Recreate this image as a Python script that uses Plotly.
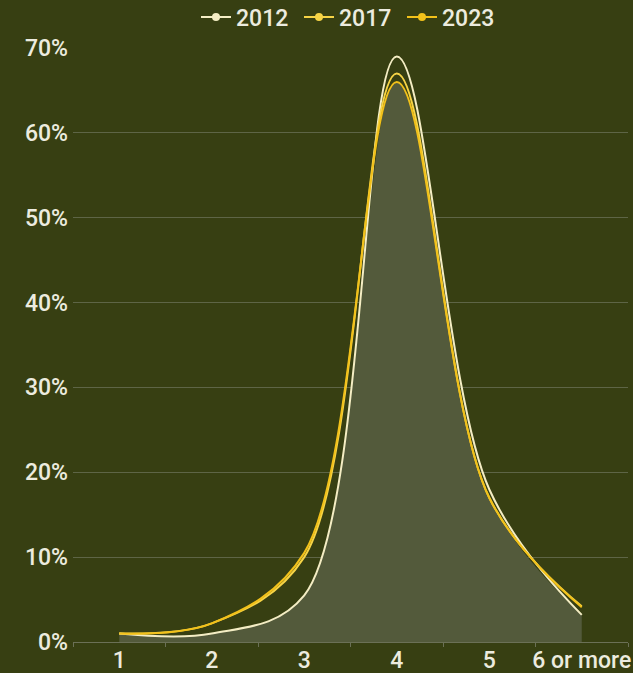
import plotly.graph_objects as go

categories = ["1", "2", "3", "4", "5", "6 or more"]
years = ["2012", "2017", "2023"]
values_2012 = [1, 1, 5.5, 69, 18, 3.2]
values_2017 = [1, 2.2, 10, 67, 17, 4.2]
values_2023 = [1, 2.2, 10.5, 66, 17, 4.1]
colors = ["#f4edc4", "#f6d446", "#f2c11a"]

series = [values_2012, values_2017, values_2023]
fill_values = [min(v) for v in zip(*series)]

FONT = "Roboto, Liberation Sans, sans-serif"
BG = "#373f12"
TXT = "#ecebdf"

fig = go.Figure()
fig.add_trace(go.Scatter(
    x=categories, y=fill_values, mode="lines", fill="tozeroy",
    fillcolor="#535a3b", line=dict(width=0, shape="spline", smoothing=1),
    showlegend=False, hoverinfo="skip"))

for name, vals, col in zip(years, series, colors):
    fig.add_trace(go.Scatter(
        x=categories, y=vals, mode="lines", name=name,
        line=dict(color=col, width=2, shape="spline", smoothing=1),
        showlegend=False))
    fig.add_trace(go.Scatter(
        x=[None], y=[None], mode="lines+markers", name=name,
        line=dict(color=col, width=2), marker=dict(color=col, size=8),
        showlegend=True))

fig.update_layout(
    width=633, height=673,
    margin=dict(l=73, r=5, t=48, b=31, autoexpand=False),
    paper_bgcolor=BG, plot_bgcolor=BG,
    font=dict(family=FONT, size=23, color=TXT, weight=500),
    showlegend=True,
    legend=dict(orientation="h", x=0.5, xanchor="center", y=1.052, yanchor="middle",
                itemwidth=30, entrywidth=58, font=dict(size=23, weight=500), tracegroupgap=0,
                bgcolor="rgba(0,0,0,0)", traceorder="normal"),
    xaxis=dict(type="category", range=[-0.5, 5.5], showgrid=False,
               showline=True, linecolor="#6b7056", linewidth=1,
               ticks="outside", tickson="boundaries", ticklen=4, tickcolor="#6b7056",
               tickangle=0, automargin=False, ticklabelstandoff=-3,
               tickfont=dict(size=23, weight=500)),
    yaxis=dict(range=[0, 70], dtick=10, ticksuffix="%", showgrid=True,
               gridcolor="#5e6546", gridwidth=1, zeroline=False, automargin=False,
               ticklabelstandoff=4, tickfont=dict(size=23, weight=500)),
)

post = """
var s=document.createElement('style');
s.innerHTML='html,body{margin:0;padding:0;overflow:hidden;background:#373f12;}';
document.head.appendChild(s);
"""

fig.write_html("out.html", post_script=post, config={"displayModeBar": False})
